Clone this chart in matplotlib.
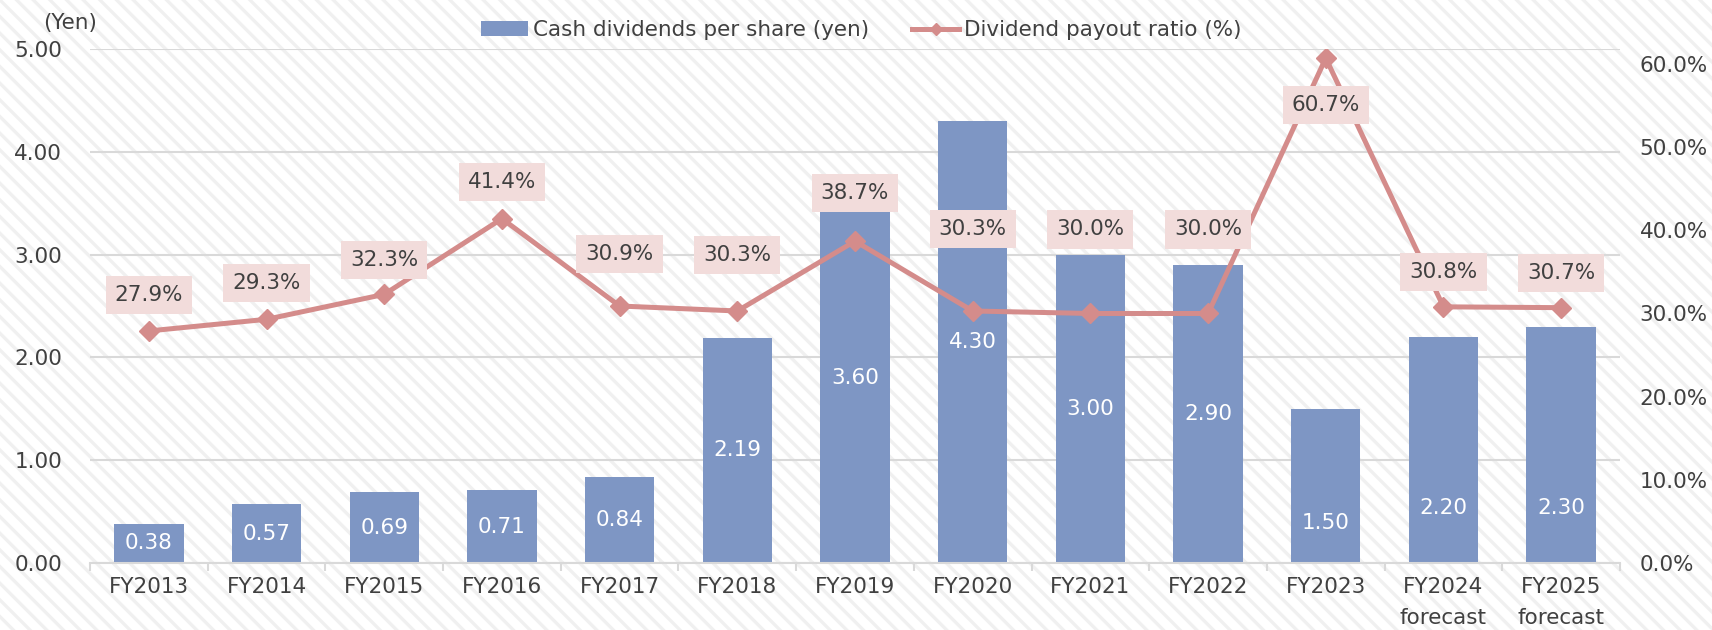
import matplotlib
import numpy as np

matplotlib.use("Agg", force=True)
import matplotlib.pyplot as plt
from matplotlib.patches import Rectangle
from matplotlib.ticker import FuncFormatter, FixedLocator

CATEGORIES = ["FY2013", "FY2014", "FY2015", "FY2016", "FY2017", "FY2018", "FY2019",
              "FY2020", "FY2021", "FY2022", "FY2023", "FY2024\nforecast", "FY2025\nforecast"]
DIVIDENDS = [0.38, 0.57, 0.69, 0.71, 0.84, 2.19, 3.60, 4.30, 3.00, 2.90, 1.50, 2.20, 2.30]
PAYOUT = [27.9, 29.3, 32.3, 41.4, 30.9, 30.3, 38.7, 30.3, 30.0, 30.0, 60.7, 30.8, 30.7]

BAR_COLOR = "#7E96C4"
LINE_COLOR = "#D48C8B"
BOX_COLOR = "#F2DCDB"
TEXT_COLOR = "#404040"
GRID_COLOR = "#D9D9D9"
FS = 15.5

plt.rcParams["font.family"] = ["DejaVu Sans"]
plt.rcParams["hatch.linewidth"] = 2.4

fig = plt.figure(figsize=(17.12, 6.3), dpi=100)
fig.patches.append(Rectangle((0, 0), 1, 1, transform=fig.transFigure, facecolor="white",
                             edgecolor="#F0F0F0", hatch="\\\\", linewidth=0, zorder=-10))

ax = fig.add_axes([90 / 1712, 1 - 563 / 630, 1530 / 1712, 514 / 630])
ax.set_facecolor("none")
x = np.arange(len(CATEGORIES))
ax.bar(x, DIVIDENDS, width=0.59, color=BAR_COLOR, zorder=2, label="Cash dividends per share (yen)")
ax.set_xlim(-0.5, len(CATEGORIES) - 0.5)
ax.set_ylim(0, 5)
ax.set_yticks(np.arange(0, 6, 1))
ax.yaxis.set_major_formatter(FuncFormatter(lambda v, _: f"{v:.2f}"))
ax.grid(axis="y", color=GRID_COLOR, linewidth=1.5, zorder=0)
ax.set_axisbelow(True)
for side in ["left", "right", "top"]:
    ax.spines[side].set_visible(False)
ax.spines["bottom"].set_color(GRID_COLOR)
ax.spines["bottom"].set_linewidth(1.5)
ax.tick_params(axis="y", length=0, pad=20, labelsize=FS, labelcolor=TEXT_COLOR)
ax.set_xticks(x)
ax.set_xticklabels(CATEGORIES, linespacing=1.72)
ax.tick_params(axis="x", which="major", length=0, pad=10, labelsize=FS, labelcolor=TEXT_COLOR)
ax.xaxis.set_minor_locator(FixedLocator(np.arange(-0.5, len(CATEGORIES), 1.0)))
ax.tick_params(axis="x", which="minor", length=6, width=1.5, color=GRID_COLOR, direction="out")

# bar value labels (centered, a few nudged down to clear the line)
inside_label_y = {10: 0.39, 11: 0.535, 12: 0.535}
for i, v in enumerate(DIVIDENDS):
    y = inside_label_y.get(i, v / 2)
    ax.text(i, y, f"{v:.2f}", ha="center", va="center", color="white", fontsize=FS, zorder=3)

ax2 = ax.twinx()
ax2.set_ylim(0, 61.8)
ax2.set_yticks(np.arange(0, 61, 10))
ax2.yaxis.set_major_formatter(FuncFormatter(lambda v, _: f"{v:.1f}%"))
ax2.tick_params(axis="y", length=0, pad=14, labelsize=FS, labelcolor=TEXT_COLOR)
for side in ["left", "right", "top", "bottom"]:
    ax2.spines[side].set_visible(False)
ax2.plot(x, PAYOUT, color=LINE_COLOR, linewidth=3.6, marker="D", markersize=10.5,
         label="Dividend payout ratio (%)", zorder=4)

# payout labels, offset in pixels above (or below) each point
label_offsets = [36, 36, 34, 37, 52, 56, 48, 82, 84, 84, -47, 35, 35]
for i, (v, off) in enumerate(zip(PAYOUT, label_offsets)):
    ax2.annotate(f"{v:.1f}%", (i, v), xytext=(0, off), textcoords="offset pixels",
                 ha="center", va="center", fontsize=FS, color=TEXT_COLOR, zorder=5,
                 bbox=dict(boxstyle="square,pad=0.42", facecolor=BOX_COLOR, edgecolor="none"))

h1, l1 = ax.get_legend_handles_labels()
h2, l2 = ax2.get_legend_handles_labels()
fig.legend(h1 + h2, l1 + l2, loc="center", bbox_to_anchor=(0.503, 0.952), ncol=2, frameon=False,
           fontsize=FS, labelcolor=TEXT_COLOR, handlelength=2.2, handletextpad=0.2, columnspacing=2.0,
           markerscale=0.6)

fig.text(70 / 1712, 1 - 23 / 630, "(Yen)", ha="center", va="center", fontsize=FS, color=TEXT_COLOR)

fig.savefig("out.png", dpi=100)
